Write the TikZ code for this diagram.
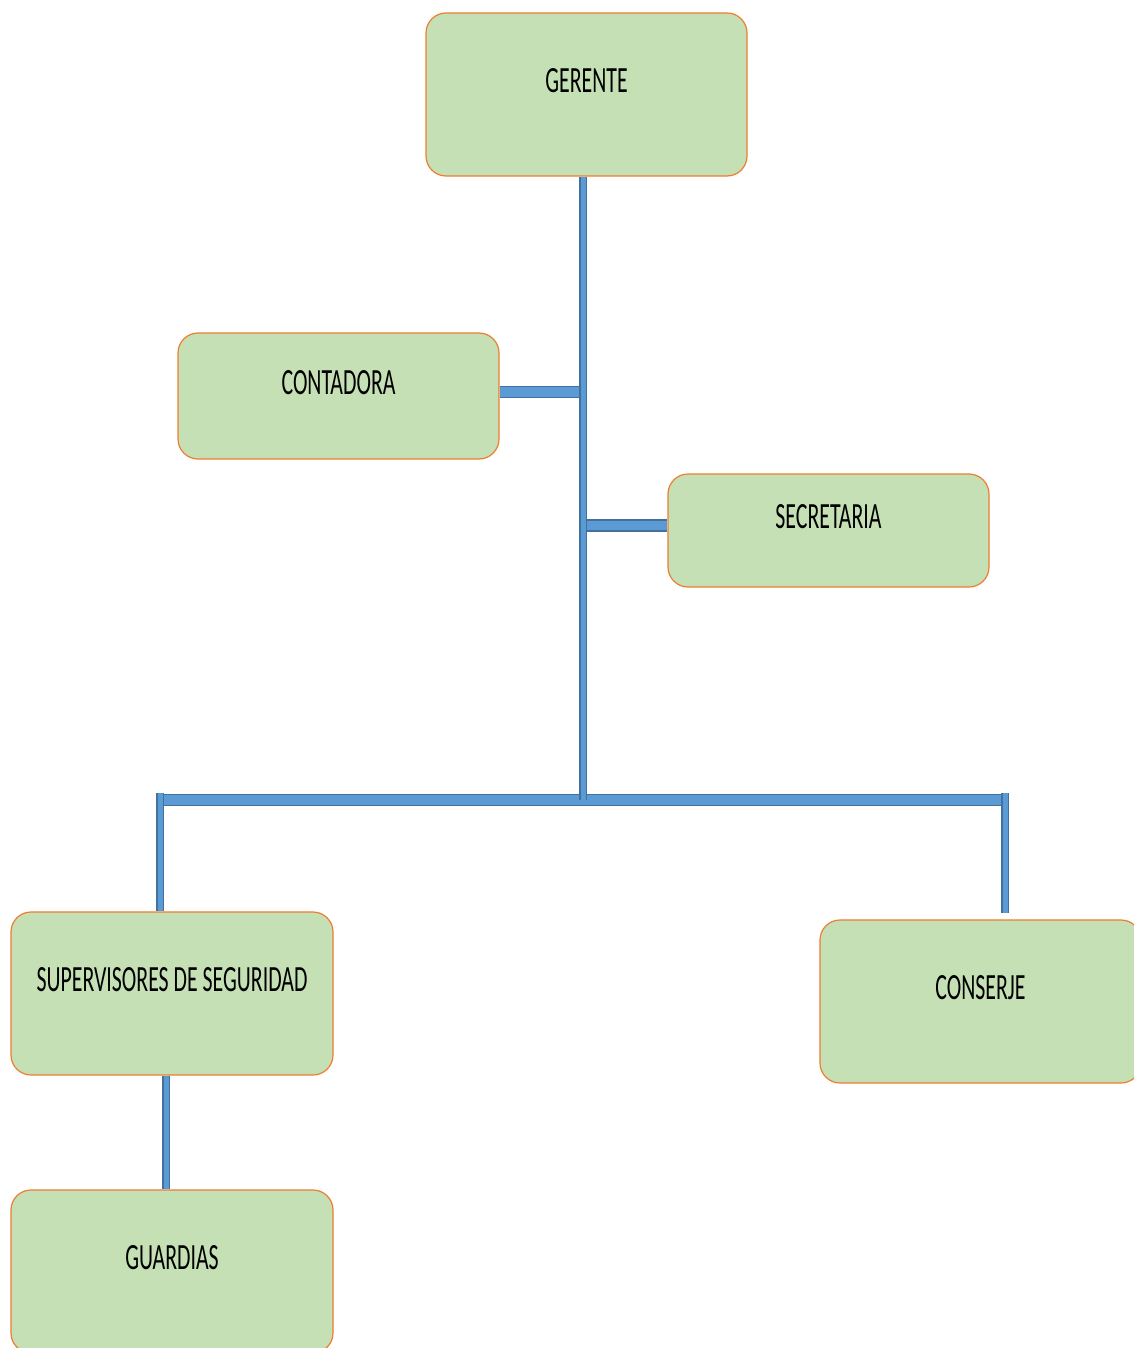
\documentclass[tikz,border=0pt]{standalone}
\usepackage{fontspec}
\newfontfamily\boxfont[FakeStretch=0.59]{Carlito}
\usepackage{tikz}
\usetikzlibrary{positioning}

\definecolor{verdeclaro}{HTML}{C5E0B4}
\definecolor{naranja}{HTML}{ED7D31}
\definecolor{azulbarra}{HTML}{5B9BD5}
\definecolor{azulborde}{HTML}{41719C}

\tikzset{
    puesto/.style={draw=naranja, fill=verdeclaro, rounded corners=20pt, line width=1.2pt,
        minimum width=321pt, minimum height=163pt, inner sep=0pt, text depth=28pt,
        font=\boxfont\fontsize{37}{40}\selectfont},
    barra/.style={draw=azulborde, double=azulbarra, line width=1.6pt, double distance=5pt},
    barraancha/.style={barra, double distance=9.5pt}
}

\begin{document}
\begin{tikzpicture}[x=1pt, y=-1pt]
    \useasboundingbox (0,0) rectangle (1133,1348);
    \fill[white] (0,0) rectangle (1133,1348);

    \node[puesto] (ger) at (586.5,94.5) {GERENTE};
    \node[puesto, minimum height=126pt] (cont) at (338.5,396) {CONTADORA};
    \node[puesto, minimum height=113pt] (secr) at (828.5,530.5) {SECRETARIA};
    \node[puesto, minimum width=322pt] (sup) at (172,993.5) {SUPERVISORES DE SEGURIDAD};
    \node[puesto] (cons) at (980.5,1001.5) {CONSERJE};
    \node[puesto, minimum width=322pt] (guard) at (172,1271.5) {GUARDIAS};

    \coordinate (bus) at (583,800);
    \coordinate (busL) at (160,800);
    \coordinate (busR) at (1005,800);
    \coordinate (consT) at (1005,913);

    % lineas de mando
    \draw[barraancha] ([yshift=4pt]cont.east) -- ([yshift=4pt]cont.east -| bus);
    \draw[barraancha] ([yshift=5pt]secr.west) -- ([yshift=5pt]secr.west -| bus);
    \draw[barraancha] ([xshift=-4pt]busL) -- ([xshift=4pt]busR);
    \draw[barra] (bus |- ger.south) -- (bus);
    \draw[barra] ([yshift=7pt]busL) -- (busL |- sup.north);
    \draw[barra] ([yshift=7pt]busR) -- (consT);
    \draw[barra] ([xshift=-6pt]sup.south) -- ([xshift=-6pt]guard.north);
\end{tikzpicture}
\end{document}
